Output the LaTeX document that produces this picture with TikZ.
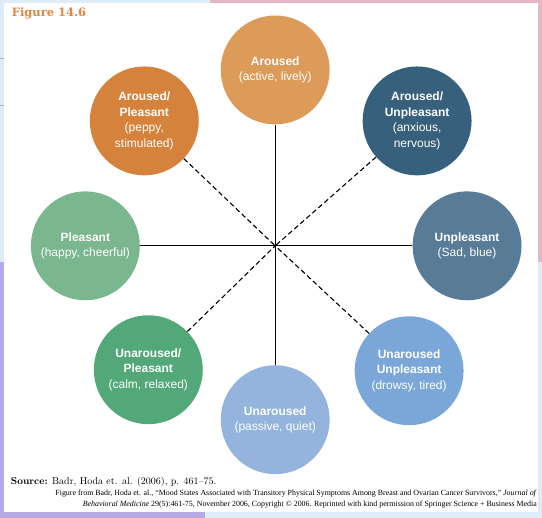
\documentclass[tikz,border=0pt]{standalone}
\usepackage{fontspec}
\setsansfont{Liberation Sans}
\newfontfamily\slabfont{DejaVu Serif}
\newfontfamily\creditfont{Liberation Serif}
\usepackage{tikz}
\usetikzlibrary{positioning}

\definecolor{bgBlue}{RGB}{222,236,248}
\definecolor{bgPink}{RGB}{230,182,200}
\definecolor{bgPurple}{RGB}{182,170,228}
\definecolor{figOrange}{RGB}{224,134,66}
\definecolor{arousedCol}{RGB}{221,155,90}
\definecolor{arPleasCol}{RGB}{213,131,60}
\definecolor{arUnplCol}{RGB}{54,96,124}
\definecolor{pleasCol}{RGB}{122,182,142}
\definecolor{unplCol}{RGB}{88,124,152}
\definecolor{unPleasCol}{RGB}{82,168,120}
\definecolor{unarousedCol}{RGB}{148,180,222}
\definecolor{unUnplCol}{RGB}{122,166,216}

\begin{document}
\begin{tikzpicture}[x=1pt, y=-1pt,
    mood/.style={circle, minimum size=109pt, inner sep=0pt, text=white, align=center,
                 font=\sffamily\fontsize{12}{15.5}\selectfont},
    axis/.style={line width=1.3pt, black},
    diag/.style={line width=1.1pt, black, dash pattern=on 5pt off 3pt}]

                % Page and margins
                \fill[bgBlue] (0,0) rectangle (542,518);
                \fill[bgPink] (210,0) rectangle (542,262);
                \fill[bgPurple] (0,262) rectangle (205,518);
                \fill[white] (4,3) rectangle (538,512);
                \draw[gray!60, line width=0.8pt] (0,58) -- (4,58);
                \draw[gray!60, line width=0.8pt] (0,105) -- (4,105);
                \useasboundingbox (0,0) rectangle (542,518);

                % Nodes
                \coordinate (hub) at (275,246);
                \node at (275,70) (aroused) [mood, fill=arousedCol] {\textbf{Aroused}\\(active, lively)};
                \node at (144,121) (arPleas) [mood, fill=arPleasCol] {\textbf{Aroused/}\\\textbf{Pleasant}\\(peppy,\\stimulated)};
                \node at (417,121) (arUnpl) [mood, fill=arUnplCol] {\textbf{Aroused/}\\\textbf{Unpleasant}\\(anxious,\\nervous)};
                \node at (85,246) (pleas) [mood, fill=pleasCol] {\textbf{Pleasant}\\(happy, cheerful)};
                \node at (467,246) (unpl) [mood, fill=unplCol] {\textbf{Unpleasant}\\(Sad, blue)};
                \node at (148,370) (unPleas) [mood, fill=unPleasCol] {\textbf{Unaroused/}\\\textbf{Pleasant}\\(calm, relaxed)};
                \node at (275,420) (unaroused) [mood, fill=unarousedCol] {\textbf{Unaroused}\\(passive, quiet)};
                \node at (409,371) (unUnpl) [mood, fill=unUnplCol] {\textbf{Unaroused}\\\textbf{Unpleasant}\\(drowsy, tired)};

                % Axes
                \draw[axis] (aroused) -- (hub);
                \draw[axis] (unaroused) -- (hub);
                \draw[axis] (pleas) -- (hub);
                \draw[axis] (unpl) -- (hub);
                \draw[diag] (arPleas) -- (hub);
                \draw[diag] (arUnpl) -- (hub);
                \draw[diag] (unPleas) -- (hub);
                \draw[diag] (unUnpl) -- (hub);

                % Title and source
                \node at (8,17) (figTitle) [anchor=base west, text=figOrange, font=\slabfont\bfseries\fontsize{11.5}{13}\selectfont] {Figure 14.6};
                \node at (7,485) (source) [anchor=base west, font=\fontsize{10}{12}\selectfont] {\textbf{Source:} Badr, Hoda et. al. (\oldstylenums{2006}), p. \oldstylenums{461}--\oldstylenums{75}.};
                \node at (537,490.5) (credit) [anchor=north east, align=right, inner sep=0pt, font=\creditfont\fontsize{7.9}{10.5}\selectfont] {Figure from Badr, Hoda et. al., “Mood States Associated with Transitory Physical Symptoms Among Breast and Ovarian Cancer Survivors,” \textit{Journal of}\\\textit{Behavioral Medicine} 29(5):461-75, November 2006, Copyright \textcopyright{} 2006. Reprinted with kind permission of Springer Science + Business Media};

            \end{tikzpicture}
\end{document}
